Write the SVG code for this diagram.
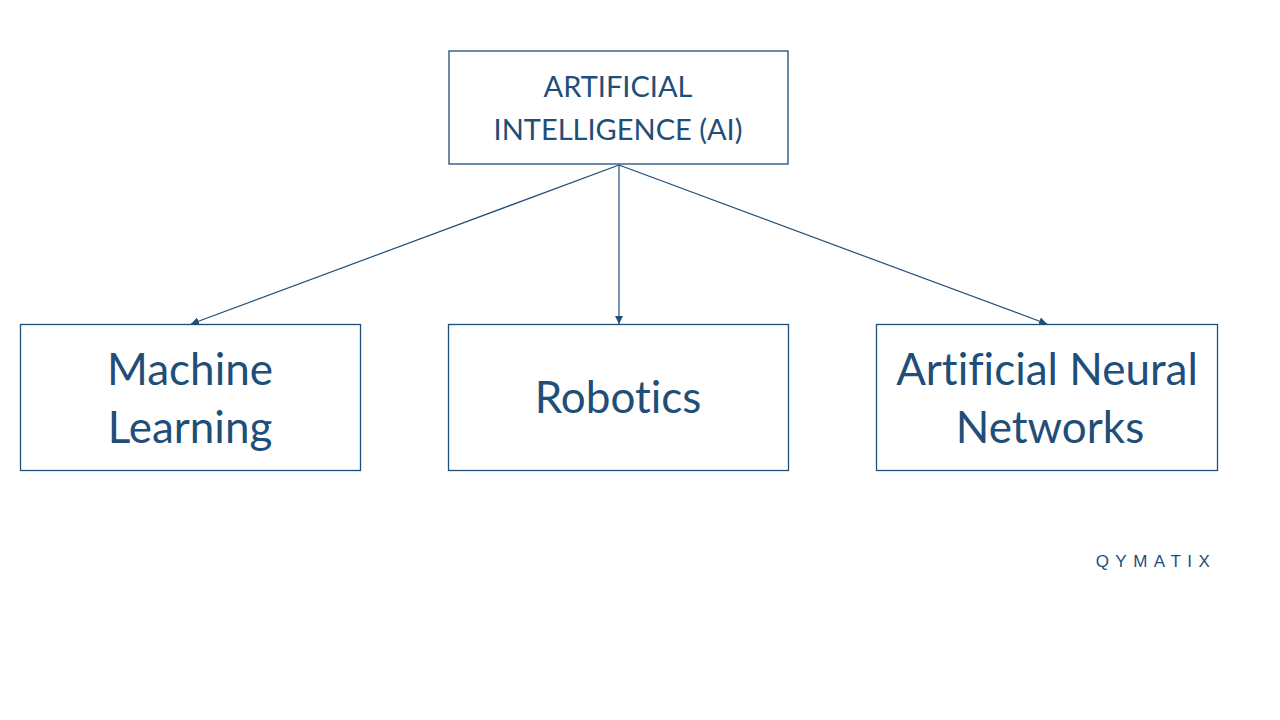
<svg xmlns="http://www.w3.org/2000/svg" width="1280" height="720" viewBox="0 0 1280 720">
<style>
.box{fill:#fff;stroke:#1f4e79;stroke-width:1.3}
.t{font-family:Lato,"Open Sans","Liberation Sans",sans-serif;fill:#1f4e79;text-anchor:middle;font-variant-ligatures:none}
.s{font-size:29px}
.b{font-size:44px}
.c{stroke:#1f4e79;stroke-width:1.2;fill:none;marker-end:url(#ah)}
</style>
<defs>
<marker id="ah" viewBox="0 0 10 10" refX="10" refY="5" markerWidth="8" markerHeight="8" markerUnits="userSpaceOnUse" orient="auto">
<path d="M0,0 L10,5 L0,10 z" fill="#1f4e79"/>
</marker>
</defs>
<rect width="1280" height="720" fill="#fff"/>
<g id="connectors">
<line class="c" x1="619" y1="165" x2="191" y2="324"/>
<line class="c" x1="619" y1="165" x2="619" y2="324"/>
<line class="c" x1="619" y1="165" x2="1047" y2="324"/>
</g>
<g id="ai">
<rect class="box" x="449" y="51" width="339" height="113"/>
<text class="t s" x="618" y="97">ARTIFICIAL</text>
<text class="t s" x="618" y="140">INTELLIGENCE (AI)</text>
</g>
<g id="ml">
<rect class="box" x="20.5" y="324.5" width="340" height="146"/>
<text class="t b" x="190" y="385">Machine</text>
<text class="t b" x="190" y="443">Learning</text>
</g>
<g id="robotics">
<rect class="box" x="448.5" y="324.5" width="340" height="146"/>
<text class="t b" x="618" y="413">Robotics</text>
</g>
<g id="ann">
<rect class="box" x="876.5" y="324.5" width="341" height="146"/>
<text class="t b" x="1047" y="385">Artificial Neural</text>
<text class="t b" x="1050" y="443">Networks</text>
</g>
<g id="logo">
<text x="1156" y="567" font-family="'Liberation Sans',sans-serif" font-size="17" fill="#1f4e79" text-anchor="middle" letter-spacing="6.5">QYMATIX</text>
</g>
</svg>
